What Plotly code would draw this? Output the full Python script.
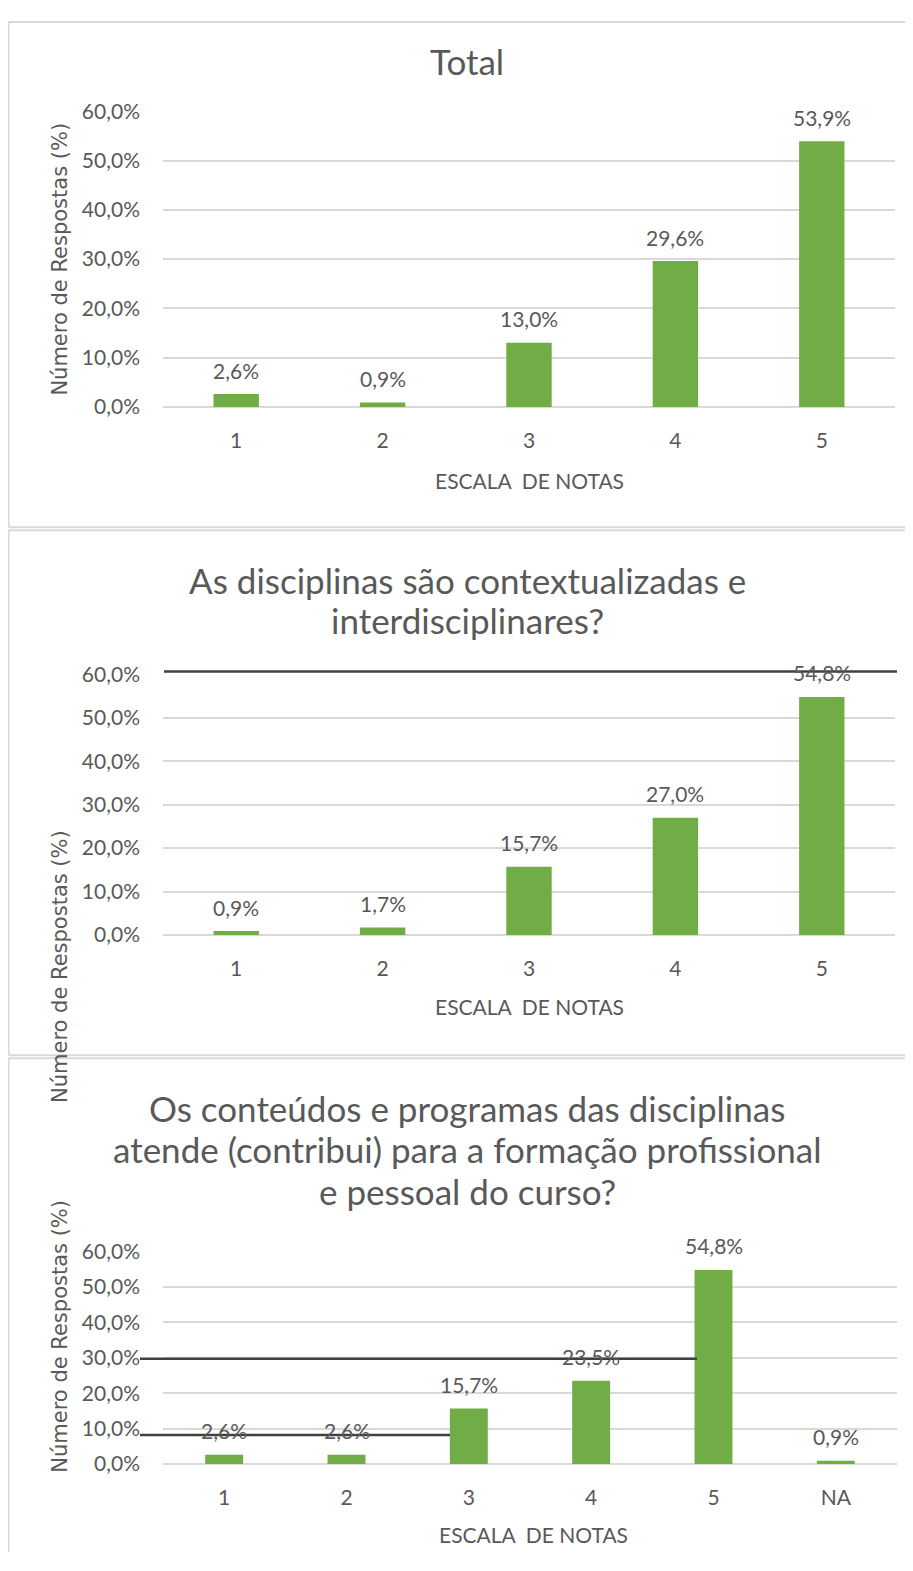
import plotly.graph_objects as go

# ---------------- data ----------------
cats_1 = ["1", "2", "3", "4", "5"]
vals_1 = [2.6, 0.9, 13.0, 29.6, 53.9]

cats_2 = ["1", "2", "3", "4", "5"]
vals_2 = [0.9, 1.7, 15.7, 27.0, 54.8]

cats_3 = ["1", "2", "3", "4", "5", "NA"]
vals_3 = [2.6, 2.6, 15.7, 23.5, 54.8, 0.9]

title_1 = ["Total"]
title_2 = ["As disciplinas são contextualizadas e", "interdisciplinares?"]
title_3 = ["Os conteúdos e programas das disciplinas",
           "atende (contribui) para a formação profissional",
           "e pessoal do curso?"]
y_title = "Número de Respostas (%)"
x_title = "ESCALA\u00a0 DE NOTAS"
y_ticks = [0, 10, 20, 30, 40, 50, 60]


def pct(v):
    return f"{v:.1f}%".replace(".", ",")


y_ticktext = [pct(v) for v in y_ticks]

# ---------------- styling ----------------
FW, FH = 897, 1555
GREEN = "#70AD47"
TXT = "#595959"
GRID = "#D9D9D9"
FONT = "Lato, Carlito, Calibri, Roboto, sans-serif"
YT_FONT = "DejaVu Sans, Noto Sans, sans-serif"
TS = 21
# empirical page -> picture mapping of the photographing step
SY, OY = 0.982, 13.0


def px(x):  # reference pixel -> paper x
    return min(max((x - 8) / FW, 0.0), 1.0)


def py(y):  # reference pixel -> paper y
    page = (y - OY) / SY
    return min(max(1 - (page - 8) / FH, 0.0), 1.0)


fig = go.Figure()

panels = [
    dict(c=cats_1, v=vals_1, title=title_1, tys=[60],
         xl=163, xr=895, yt=110, yb=405, yty=258, xtx=529, xty=478),
    dict(c=cats_2, v=vals_2, title=title_2, tys=[578, 618],
         xl=163, xr=895, yt=672, yb=932, yty=964, xtx=529, xty=1003),
    dict(c=cats_3, v=vals_3, title=title_3, tys=[1105, 1146, 1188],
         xl=163, xr=897, yt=1248, yb=1460, yty=1333, xtx=533, xty=1530),
]

annotations = []
for i, p in enumerate(panels):
    n = "" if i == 0 else str(i + 1)
    fig.add_trace(go.Bar(
        x=p["c"], y=p["v"],
        xaxis="x" + n, yaxis="y" + n,
        marker=dict(color=GREEN, line=dict(width=0)),
        width=0.31,
        showlegend=False,
        hoverinfo="skip",
    ))
    # data labels (category axis -> position by category index)
    for j, v in enumerate(p["v"]):
        annotations.append(dict(
            text=pct(v), xref="x" + n, yref="y" + n, x=j, y=v,
            xanchor="center", yanchor="middle", yshift=24,
            showarrow=False, font=dict(family=FONT, size=TS, color=TXT),
        ))
    fig.update_layout(**{
        "xaxis" + n: dict(
            domain=[px(p["xl"]), px(p["xr"])],
            anchor="y" + n,
            type="category",
            categoryorder="array", categoryarray=p["c"],
            range=[-0.5, len(p["c"]) - 0.5],
            showgrid=False, zeroline=False, showline=False,
            ticks="", ticklabelstandoff=19,
            tickfont=dict(family=FONT, size=TS, color=TXT),
        ),
        "yaxis" + n: dict(
            domain=[py(p["yb"]), py(p["yt"])],
            anchor="x" + n,
            range=[0, 60],
            tickvals=y_ticks, ticktext=y_ticktext,
            showgrid=True, gridcolor=GRID, gridwidth=1.5,
            zeroline=True, zerolinecolor=GRID, zerolinewidth=1.5,
            showline=False, ticks="", ticklabelstandoff=22,
            tickfont=dict(family=FONT, size=TS, color=TXT),
        ),
    })
    for line, ty in zip(p["title"], p["tys"]):
        annotations.append(dict(
            text=line, xref="paper", yref="paper",
            x=px(467), y=py(ty), xanchor="center", yanchor="middle",
            showarrow=False, font=dict(family=FONT, size=35, color=TXT),
        ))
    annotations.append(dict(
        text=y_title, xref="paper", yref="paper", textangle=-90,
        x=px(60), y=py(p["yty"]), xanchor="center", yanchor="middle",
        showarrow=False, font=dict(family=YT_FONT, size=21, color=TXT),
    ))
    annotations.append(dict(
        text=x_title, xref="paper", yref="paper",
        x=px(p["xtx"]), y=py(p["xty"]), xanchor="center", yanchor="middle",
        showarrow=False, font=dict(family=FONT, size=TS, color=TXT),
    ))

shapes = []
# panel frames (top / bottom / left edges; right side runs off the picture)
frame = dict(color=GRID, width=2)
for (t, b) in [(15, 525), (528, 1052), (1055, None)]:
    shapes.append(dict(type="line", xref="paper", yref="paper", layer="below",
                       x0=px(8.5), x1=1, y0=py(t), y1=py(t), line=frame))
    yb = py(b) if b is not None else 0
    if b is not None:
        shapes.append(dict(type="line", xref="paper", yref="paper", layer="below",
                           x0=px(8.5), x1=1, y0=yb, y1=yb, line=frame))
    shapes.append(dict(type="line", xref="paper", yref="paper", layer="below",
                       x0=px(8.5), x1=px(8.5), y0=yb, y1=py(t), line=frame))
# stray dark lines present in the source image
for (x0, x1, y) in [(164, 897, 669), (140, 697, 1355), (140, 450, 1431)]:
    shapes.append(dict(type="line", xref="paper", yref="paper",
                       x0=px(x0), x1=px(x1), y0=py(y), y1=py(y),
                       line=dict(color="#404040", width=2.5), layer="above"))

fig.update_layout(
    width=FW, height=FH,
    margin=dict(l=0, r=0, t=0, b=0),
    paper_bgcolor="white", plot_bgcolor="white",
    separators=",.",
    annotations=annotations,
    shapes=shapes,
)

fig.write_html("out.html")
